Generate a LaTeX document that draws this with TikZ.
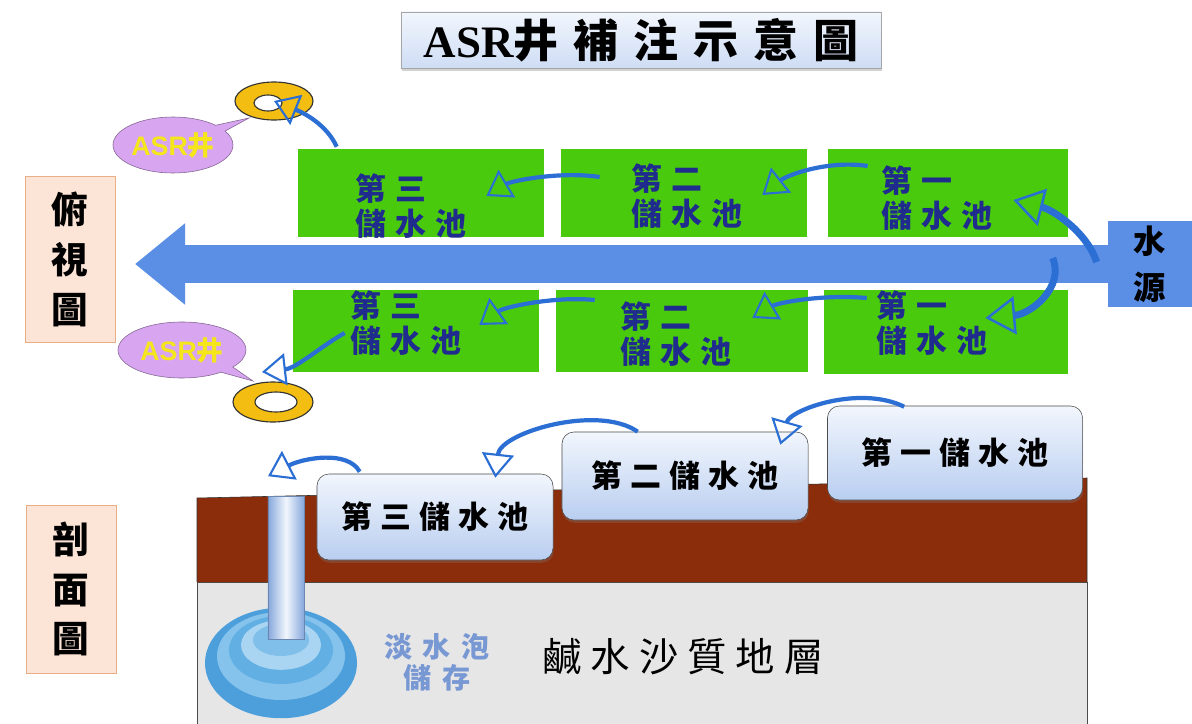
\documentclass[tikz,border=0pt]{standalone}
\usepackage{fontspec}
\setmainfont{Noto Sans CJK TC}
\newfontfamily\titlefont{Noto Sans CJK TC}[LetterSpace=33]
\newfontfamily\poolfont{Noto Sans CJK TC}[LetterSpace=30]
\newfontfamily\tankfont{Noto Sans CJK TC}[LetterSpace=26]
\newfontfamily\stratafont{Noto Sans CJK TC}[LetterSpace=23]
\newfontfamily\freshfont{Noto Sans CJK TC}[LetterSpace=36]
\newfontfamily\serifasr{Liberation Serif}
\newfontfamily\sansasr{Liberation Sans}
\usetikzlibrary{arrows.meta,shadows,shapes.geometric,shapes.callouts}
\definecolor{AsrPool}{HTML}{4ACA0C}
\definecolor{AsrPoolText}{HTML}{1F2C8E}
\definecolor{AsrFlow}{HTML}{5B8FE6}
\definecolor{AsrHop}{HTML}{2C6FD4}
\definecolor{AsrGold}{HTML}{F4BD12}
\definecolor{AsrLilac}{HTML}{D8A6F1}
\definecolor{AsrYellow}{HTML}{F5E61C}
\definecolor{AsrSoil}{HTML}{8B2C0B}
\definecolor{AsrSand}{HTML}{E6E6E6}
\definecolor{AsrPeach}{HTML}{FCE4D6}
\definecolor{AsrPeachEdge}{HTML}{EAAE86}
\definecolor{AsrSkyTop}{HTML}{F2F6FD}
\definecolor{AsrSky}{HTML}{B9CEF0}
\definecolor{AsrFresh}{HTML}{7898D4}
\definecolor{AsrPipe}{HTML}{86A8DC}
\definecolor{AsrBubbleA}{HTML}{4C9FDB}
\definecolor{AsrBubbleB}{HTML}{86C3EC}
\definecolor{AsrBubbleC}{HTML}{62AFE3}
\definecolor{AsrBubbleD}{HTML}{A9D5F2}
\definecolor{AsrBubbleE}{HTML}{80BFEA}

\begin{document}
\begin{tikzpicture}[x=0.025cm,y=-0.025cm,
    pool/.style={fill=AsrPool,inner sep=0pt,minimum width=6.15cm,minimum height=#1},
    pool/.default=2.2cm,
    pooltag/.style={anchor=west,align=left,text=AsrPoolText,inner sep=0pt,
      font=\poolfont\bfseries\fontsize{22}{24.5}\selectfont},
    hop/.style={draw=AsrHop,line width=3pt,
      -{Triangle[open,length=0.6cm,width=0.8cm,line width=1.5pt]}},
    tank/.style={draw=black!70,rounded corners=0.3cm,top color=AsrSkyTop,bottom color=AsrSky,
      drop shadow={opacity=0.3,shadow xshift=0.5pt,shadow yshift=-2pt},
      font=\tankfont\bfseries\fontsize{22}{24}\selectfont},
    sidebox/.style={fill=AsrPeach,draw=AsrPeachEdge,minimum width=2.25cm,minimum height=4.15cm,
      align=center,font=\bfseries\fontsize{26}{35.5}\selectfont},
    asrtag/.style={ellipse callout,fill=AsrLilac,draw=AsrLilac!60!black,minimum width=3cm,
      minimum height=1.4cm,inner sep=0pt,text=AsrYellow,font=\bfseries\fontsize{19}{20}\selectfont},
    well/.style={fill=AsrGold,draw=black!80,line width=0.8pt,even odd rule}]
  \useasboundingbox (0,0) rectangle (1192,724);
  \fill[white] (0,0) rectangle (1192,724);

  % title
  \node[draw=black!35,top color=AsrSkyTop,bottom color=AsrSky!70,minimum width=12cm,minimum height=1.4cm,
    drop shadow={opacity=0.35,shadow xshift=1pt,shadow yshift=-2pt}] (title) at (641,40)
    {\fontsize{32}{36}\selectfont{\serifasr\bfseries ASR}\titlefont\bfseries 井補注示意圖};

  % side headings
  \node[sidebox] (plan) at (70,259) {俯\\視\\圖};
  \node[sidebox,minimum height=4.2cm] (section) at (71,589) {剖\\面\\圖};

  % plan view: main channel and the pools beside it
  \node[fill=AsrFlow,minimum width=2.1cm,minimum height=2.08cm,font=\bfseries\fontsize{23}{33}\selectfont,
    align=center] (src) at (1150,264) {水\\源};
  \coordinate (flowtip) at (135,264);
  \draw[AsrFlow,line width=0.925cm,-{Triangle[length=1.25cm,width=1.95cm]}] (src.west) -- (flowtip);

  \node[pool] (t3) at (421,193) {};
  \node[pool] (t2) at (684,193) {};
  \node[pool,minimum width=6cm] (t1) at (948,193) {};
  \node[pool=2.05cm] (b3) at (416,331) {};
  \node[pool=2.05cm,minimum width=6.3cm] (b2) at (682,331) {};
  \node[pool=2.1cm,minimum width=6.1cm] (b1) at (946,332) {};

  \node[pooltag] at (355,206) {第三\\儲水池};
  \node[pooltag] at (631,196) {第二\\儲水池};
  \node[pooltag] at (881,198) {第一\\儲水池};
  \node[pooltag] at (350,323) {第三\\儲水池};
  \node[pooltag] at (620,334) {第二\\儲水池};
  \node[pooltag] at (876,323) {第一\\儲水池};

  % ASR wells
  \node[asrtag,callout absolute pointer={(249,118)}] (tagtop) at (173,145) {{\sansasr ASR}井};
  \node[asrtag,minimum width=3.2cm,callout absolute pointer={(253,381)}] (tagbot) at (182,350) {{\sansasr ASR}井};
  \coordinate (wt) at (274,101);
  \coordinate (wb) at (273,402);
  \path[well] (wt) ellipse[x radius=0.975cm,y radius=0.475cm]
    ([shift={(-6,2)}]wt) ellipse[x radius=0.35cm,y radius=0.2cm];
  \path[well] (wb) ellipse[x radius=1cm,y radius=0.5cm]
    ([shift={(3,0)}]wb) ellipse[x radius=0.525cm,y radius=0.25cm];

  % water handed on from pool to pool
  \draw[hop,line width=5pt,-{Triangle[open,length=0.75cm,width=0.95cm,line width=1.8pt]}]
    ([shift={(-11,-2)}]src.west) .. controls +(-10,-30) and +(40,10) .. ([shift={(-55,7)}]t1.east);
  \draw[hop,line width=5pt,-{Triangle[open,length=0.75cm,width=0.95cm,line width=1.8pt]}]
    ([shift={(-55,-6)}]src.west) .. controls +(12,30) and +(45,-4) .. ([shift={(-83,-14)}]b1.east);
  \draw[hop] ([shift={(40,-27)}]t1.west) .. controls +(-40,-6) and +(25,-20) .. ([shift={(-45,2)}]t2.east);
  \draw[hop] ([shift={(39,-16)}]t2.west) .. controls +(-40,-6) and +(25,-15) .. ([shift={(-58,3)}]t3.east);
  \draw[hop] ([shift={(39,-2)}]t3.north west) .. controls +(-10,-22) and +(30,12) .. (wt);
  \draw[hop] ([shift={(43,-34)}]b1.west) .. controls +(-45,-4) and +(25,-15) .. ([shift={(-56,-13)}]b2.east);
  \draw[hop] ([shift={(39,-31)}]b2.west) .. controls +(-40,-4) and +(25,-18) .. ([shift={(-60,-6)}]b3.east);
  \draw[hop] ([shift={(52,2)}]b3.west) .. controls +(-22,12) and +(35,-4) .. ([shift={(-11,-30)}]wb);

  % cross section: ground layers
  \fill[AsrSand] (197,582) rectangle (1087,724);
  \draw[black!70] (197,724) -- (197,582) -- (1087,582) -- (1087,724);
  \fill[AsrSoil] (197,498) -- (1087,478) -- (1087,582) -- (197,582) -- cycle;
  \draw[black!80] (197,582) -- (197,498) -- (1087,478) -- (1087,582);
  \node[font=\stratafont\fontsize{28}{30}\selectfont] (saline) at (683,657) {鹹水沙質地層};

  % fresh water bubble round the well
  \fill[AsrBubbleA] (281,663) ellipse[x radius=1.9cm,y radius=1.38cm];
  \fill[AsrBubbleB] (281,656) ellipse[x radius=1.6cm,y radius=1.1cm];
  \fill[AsrBubbleC] (281,650) ellipse[x radius=1.3cm,y radius=0.85cm];
  \fill[AsrBubbleD] (281,645) ellipse[x radius=1cm,y radius=0.62cm];
  \fill[AsrBubbleE] (281,640) ellipse[x radius=0.7cm,y radius=0.4cm];
  \node[left color=AsrPipe,right color=AsrPipe,middle color=AsrSkyTop,draw=AsrPipe!80!black,
    minimum width=0.9cm,minimum height=3.575cm,inner sep=0pt] (pipe) at (286,568) {};
  \node[text=AsrFresh,align=center,font=\freshfont\bfseries\fontsize{20}{22}\selectfont] (fresh) at (437,662) {淡水泡\\儲存};

  % cross section: the pools
  \node[tank,minimum width=5.9cm,minimum height=2.15cm] (s3) at (435,517) {第三儲水池};
  \node[tank,minimum width=6.15cm,minimum height=2.2cm] (s2) at (685,476) {第二儲水池};
  \node[tank,minimum width=6.375cm,minimum height=2.35cm] (s1) at (955,453) {第一儲水池};

  \draw[hop] ([shift={(77,1)}]s1.north west) .. controls +(-45,-22) and +(10,-35) .. ([shift={(-28,13)}]s2.north east);
  \draw[hop] ([shift={(76,0)}]s2.north west) .. controls +(-40,-28) and +(5,-45) .. ([shift={(-58,4)}]s3.north east);
  \draw[hop] ([shift={(43,-2)}]s3.north west) .. controls +(-12,-22) and +(35,-18) .. ([shift={(-18,-20)}]pipe.north);
\end{tikzpicture}
\end{document}
